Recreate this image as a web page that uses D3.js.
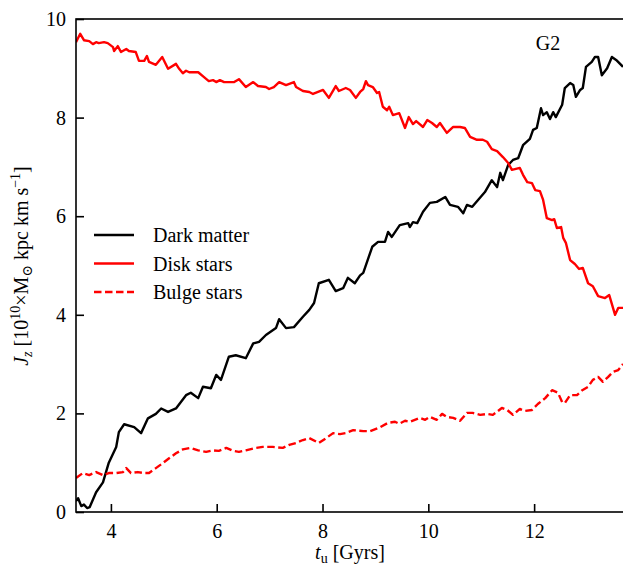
<!DOCTYPE html>
<html>
<head>
<meta charset="utf-8">
<script src="https://cdn.jsdelivr.net/npm/d3@7"></script>
<style>
  body { margin: 0; background: #fff; }
  text { font-family: "Liberation Serif", "DejaVu Serif", serif; fill: #000; }
</style>
</head>
<body>
<div id="chart"></div>
<script>
var width = 623;
var height = 569;

// time axis (Gyr) and J_z values
var dmTime = [3.34, 3.38, 3.44, 3.49, 3.55, 3.60, 3.72, 3.85, 3.96, 4.10, 4.15, 4.25, 4.44, 4.57, 4.70, 4.85, 4.95, 5.08, 5.23, 5.42,
  5.51, 5.65, 5.74, 5.89, 5.99, 6.08, 6.23, 6.36, 6.55, 6.69, 6.80, 6.93, 7.12, 7.18, 7.31, 7.46, 7.63, 7.75, 7.84, 7.93,
  8.12, 8.25, 8.39, 8.48, 8.61, 8.71, 8.77, 8.94, 9.05, 9.18, 9.24, 9.31, 9.46, 9.62, 9.65, 9.71, 9.79, 9.90, 10.03, 10.16,
  10.32, 10.41, 10.56, 10.66, 10.73, 10.83, 10.94, 11.07, 11.20, 11.30, 11.36, 11.41, 11.51, 11.60, 11.70, 11.79, 11.92, 11.98, 12.05, 12.13,
  12.17, 12.24, 12.30, 12.36, 12.41, 12.53, 12.58, 12.68, 12.74, 12.79, 12.87, 12.92, 12.98, 13.09, 13.15, 13.21, 13.28, 13.38, 13.47, 13.55, 13.68];
var darkMatter = [0.22, 0.28, 0.12, 0.15, 0.08, 0.10, 0.40, 0.60, 1.00, 1.32, 1.62, 1.78, 1.72, 1.60, 1.90, 1.99, 2.10, 2.03, 2.10, 2.37,
  2.42, 2.31, 2.54, 2.51, 2.78, 2.68, 3.15, 3.18, 3.12, 3.42, 3.45, 3.59, 3.73, 3.91, 3.73, 3.75, 3.96, 4.10, 4.24, 4.64,
  4.71, 4.48, 4.54, 4.75, 4.64, 4.80, 4.85, 5.38, 5.48, 5.48, 5.68, 5.58, 5.82, 5.86, 5.78, 5.88, 5.86, 6.09, 6.27, 6.29,
  6.39, 6.23, 6.19, 6.06, 6.23, 6.19, 6.33, 6.49, 6.73, 6.59, 6.88, 6.73, 7.04, 7.14, 7.18, 7.44, 7.57, 7.75, 7.79, 8.19,
  8.05, 8.11, 7.97, 8.11, 8.01, 8.26, 8.60, 8.70, 8.66, 8.42, 8.56, 8.60, 9.03, 9.13, 9.23, 9.23, 8.86, 9.00, 9.23, 9.17, 9.03];

var diskTime = [3.34, 3.42, 3.49, 3.59, 3.66, 3.72, 3.77, 3.87, 3.94, 4.04, 4.06, 4.13, 4.19, 4.29, 4.34, 4.47, 4.53, 4.63, 4.68, 4.72,
  4.85, 4.97, 5.08, 5.23, 5.29, 5.36, 5.42, 5.48, 5.57, 5.65, 5.76, 5.85, 5.93, 5.99, 6.06, 6.14, 6.23, 6.33, 6.42, 6.55,
  6.69, 6.78, 6.93, 6.99, 7.08, 7.18, 7.31, 7.46, 7.50, 7.63, 7.75, 7.82, 8.01, 8.12, 8.25, 8.31, 8.44, 8.52, 8.63, 8.71,
  8.77, 8.82, 8.86, 8.95, 9.03, 9.07, 9.14, 9.22, 9.26, 9.33, 9.45, 9.56, 9.63, 9.71, 9.77, 9.90, 9.98, 10.07, 10.16, 10.22,
  10.35, 10.47, 10.60, 10.69, 10.79, 10.92, 11.03, 11.11, 11.20, 11.30, 11.41, 11.51, 11.58, 11.73, 11.79, 11.87, 11.96, 12.02, 12.11, 12.17,
  12.24, 12.34, 12.38, 12.43, 12.51, 12.55, 12.60, 12.68, 12.77, 12.85, 12.92, 13.02, 13.11, 13.21, 13.34, 13.42, 13.53, 13.59, 13.68];
var diskStars = [9.53, 9.70, 9.57, 9.55, 9.49, 9.53, 9.51, 9.53, 9.51, 9.43, 9.35, 9.45, 9.33, 9.39, 9.35, 9.33, 9.15, 9.15, 9.25, 9.13,
  9.07, 9.23, 8.99, 9.09, 8.99, 8.90, 8.95, 8.92, 8.92, 8.92, 8.82, 8.74, 8.76, 8.72, 8.76, 8.72, 8.72, 8.72, 8.78, 8.62,
  8.72, 8.64, 8.62, 8.58, 8.62, 8.72, 8.66, 8.72, 8.62, 8.54, 8.52, 8.48, 8.56, 8.40, 8.64, 8.54, 8.60, 8.56, 8.40, 8.52,
  8.58, 8.74, 8.66, 8.62, 8.50, 8.52, 8.22, 8.15, 8.22, 8.05, 8.09, 7.79, 8.01, 7.87, 7.93, 7.81, 7.95, 7.89, 7.81, 7.89,
  7.69, 7.81, 7.81, 7.79, 7.61, 7.55, 7.55, 7.51, 7.36, 7.32, 7.20, 7.08, 6.94, 6.98, 6.84, 6.69, 6.67, 6.53, 6.51, 6.33,
  5.96, 5.92, 5.94, 5.76, 5.78, 5.56, 5.46, 5.11, 5.03, 4.93, 4.95, 4.64, 4.58, 4.38, 4.34, 4.40, 4.00, 4.14, 4.14];

var bulgeTime = [3.34, 3.47, 3.59, 3.72, 3.85, 3.96, 4.10, 4.23, 4.29, 4.38, 4.51, 4.63, 4.72, 4.85, 4.98, 5.10, 5.23, 5.36, 5.51, 5.65,
  5.80, 5.93, 6.04, 6.18, 6.31, 6.42, 6.55, 6.74, 6.87, 7.06, 7.25, 7.37, 7.50, 7.63, 7.75, 7.93, 8.07, 8.20, 8.33, 8.44,
  8.58, 8.77, 8.90, 9.09, 9.24, 9.37, 9.45, 9.56, 9.65, 9.84, 9.94, 10.03, 10.16, 10.26, 10.35, 10.47, 10.60, 10.73, 10.84, 10.98,
  11.11, 11.22, 11.39, 11.49, 11.60, 11.73, 11.83, 11.96, 12.07, 12.21, 12.34, 12.45, 12.53, 12.58, 12.68, 12.81, 12.91, 13.02, 13.11, 13.21,
  13.30, 13.40, 13.49, 13.59, 13.68];
var bulgeStars = [0.69, 0.79, 0.75, 0.81, 0.75, 0.79, 0.79, 0.81, 0.89, 0.79, 0.81, 0.79, 0.79, 0.89, 0.99, 1.09, 1.19, 1.27, 1.30, 1.25,
  1.22, 1.25, 1.24, 1.30, 1.24, 1.22, 1.25, 1.30, 1.32, 1.32, 1.30, 1.36, 1.40, 1.46, 1.50, 1.40, 1.50, 1.60, 1.58, 1.60,
  1.66, 1.64, 1.64, 1.72, 1.81, 1.83, 1.79, 1.85, 1.83, 1.91, 1.87, 1.93, 1.87, 1.99, 1.93, 1.91, 1.85, 2.01, 2.01, 1.97,
  1.99, 1.97, 2.11, 2.07, 1.97, 2.09, 2.05, 2.07, 2.19, 2.31, 2.47, 2.42, 2.23, 2.21, 2.37, 2.37, 2.47, 2.54, 2.68, 2.74,
  2.64, 2.74, 2.84, 2.88, 3.00];

var xTicks = [4, 6, 8, 10, 12];
var yTicks = [0, 2, 4, 6, 8, 10];

var seriesNames = ["Dark matter", "Disk stars", "Bulge stars"];

var margin = {top: 19, right: 0, bottom: 57, left: 76};

var svg = d3.select("#chart")
  .append("svg")
    .attr("width", width)
    .attr("height", height);

var xScale = d3.scaleLinear()
  .domain([3.34, 13.68])
  .range([margin.left, width - margin.right]);

var yScale = d3.scaleLinear()
  .domain([0, 10])
  .range([height - margin.bottom, margin.top]);

var series = [
  {name: seriesNames[0], t: dmTime, v: darkMatter, color: "#000", dash: null},
  {name: seriesNames[1], t: diskTime, v: diskStars, color: "#ff0000", dash: null},
  {name: seriesNames[2], t: bulgeTime, v: bulgeStars, color: "#ff0000", dash: "7.5,3.5"}
];

var line = d3.line()
  .x(function (d) { return xScale(d[0]); })
  .y(function (d) { return yScale(d[1]); });

svg.append("defs").append("clipPath")
    .attr("id", "plotclip")
  .append("rect")
    .attr("x", margin.left)
    .attr("y", margin.top)
    .attr("width", width - margin.left - margin.right)
    .attr("height", height - margin.top - margin.bottom);

// the three curves
svg.append("g")
    .attr("clip-path", "url(#plotclip)")
  .selectAll("path")
  .data(series)
  .enter()
  .append("path")
    .attr("fill", "none")
    .attr("stroke", function (d) { return d.color; })
    .attr("stroke-width", 2.4)
    .attr("stroke-linejoin", "round")
    .attr("stroke-dasharray", function (d) { return d.dash; })
    .attr("d", function (d) {
      return line(d.t.map(function (t, i) { return [t, d.v[i]]; }));
    });

// axes: ticks point inward
var xAxis = d3.axisBottom(xScale)
  .tickValues(xTicks)
  .tickSizeInner(-8)
  .tickSizeOuter(0)
  .tickPadding(12);

var yAxis = d3.axisLeft(yScale)
  .tickValues(yTicks)
  .tickSizeInner(-8)
  .tickSizeOuter(0)
  .tickPadding(10);

var gx = svg.append("g")
  .attr("transform", "translate(0," + (height - margin.bottom) + ")")
  .call(xAxis);

var gy = svg.append("g")
  .attr("transform", "translate(" + margin.left + ",0)")
  .call(yAxis);

[gx, gy].forEach(function (g) {
  g.select(".domain").remove();
  g.selectAll(".tick line").attr("stroke", "#000").attr("stroke-width", 1.6);
  g.selectAll(".tick text")
    .attr("font-family", "Liberation Serif")
    .attr("font-size", 20)
    .attr("fill", "#000");
});

// frame (left, top, bottom; right side falls off the canvas)
svg.append("rect")
  .attr("x", margin.left)
  .attr("y", margin.top)
  .attr("width", width - margin.left + 2)
  .attr("height", height - margin.top - margin.bottom)
  .attr("fill", "none")
  .attr("stroke", "#000")
  .attr("stroke-width", 1.6);

// panel tag
svg.append("text")
  .attr("x", 548)
  .attr("y", 50)
  .attr("text-anchor", "middle")
  .attr("font-size", 20)
  .text("G2");

// legend
var legend = svg.append("g")
  .attr("transform", "translate(94,235)");

var leg = legend.selectAll("g")
  .data(series)
  .enter()
  .append("g")
    .attr("transform", function (d, i) { return "translate(0," + (i * 28.5) + ")"; });

leg.append("line")
  .attr("x1", 0)
  .attr("x2", 40)
  .attr("y1", 0)
  .attr("y2", 0)
  .attr("stroke", function (d) { return d.color; })
  .attr("stroke-width", 2.4)
  .attr("stroke-dasharray", function (d) { return d.dash; });

leg.append("text")
  .attr("x", 59)
  .attr("y", 7)
  .attr("font-size", 20)
  .text(function (d) { return d.name; });

// x label
var xl = svg.append("text")
  .attr("x", 350)
  .attr("y", 559)
  .attr("text-anchor", "middle")
  .attr("font-size", 20);
xl.append("tspan").attr("font-style", "italic").text("t");
xl.append("tspan").attr("font-size", 14).attr("dy", 4).text("u");
xl.append("tspan").attr("dy", -4).text(" [Gyrs]");

// y label
var yl = svg.append("text")
  .attr("transform", "translate(28,266) rotate(-90)")
  .attr("text-anchor", "middle")
  .attr("font-size", 20);
yl.append("tspan").attr("font-style", "italic").text("J");
yl.append("tspan").attr("font-style", "italic").attr("font-size", 14).attr("dy", 4).text("z");
yl.append("tspan").attr("dy", -4).text(" [10");
yl.append("tspan").attr("font-size", 14).attr("dy", -8).text("10");
yl.append("tspan").attr("dy", 8).text("\u00d7M");
yl.append("tspan").attr("font-size", 14).attr("dy", 4).text("\u2299");
yl.append("tspan").attr("dy", -4).text(" kpc km s");
yl.append("tspan").attr("font-size", 14).attr("dy", -8).text("\u22121");
yl.append("tspan").attr("dy", 8).text("]");
</script>
</body>
</html>
